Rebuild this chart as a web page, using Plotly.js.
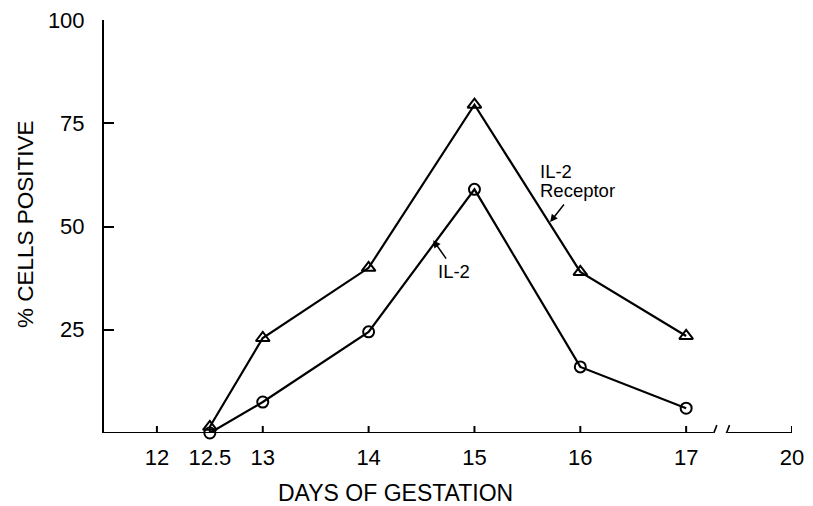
<!DOCTYPE html>
<html>
<head>
<meta charset="utf-8">
<script src="https://cdn.plot.ly/plotly-3.0.1.min.js"></script>
<style>html,body{margin:0;padding:0;background:#fff;}#chart{width:813px;height:506px;}</style>
</head>
<body>
<div id="chart"></div>
<script>
// Data
var days = [12.5, 13, 14, 15, 16, 17];
var il2Receptor = [1.5, 23, 40, 79.5, 39, 23.5];
var il2 = [0, 7.5, 24.5, 59, 16, 6];
var xTickVals = [12, 12.5, 13, 14, 15, 16, 17, 18];
var xTickText = ["12", "12.5", "13", "14", "15", "16", "17", "20"];
var yTickVals = [25, 50, 75, 100];
var yTickText = ["25", "50", "75", "100"];

var FONT = "Liberation Sans, Arial, Helvetica, sans-serif";
var traces = [
  {x: days, y: il2Receptor, mode: "lines+markers", type: "scatter", cliponaxis: false,
   line: {color: "#000", width: 2.2},
   marker: {symbol: "triangle-up-open", size: 12, color: "#000", line: {width: 2, color: "#000"}},
   name: "IL-2 Receptor"},
  {x: days, y: il2, mode: "lines+markers", type: "scatter", cliponaxis: false,
   line: {color: "#000", width: 2.2},
   marker: {symbol: "circle-open", size: 11, color: "#000", line: {width: 2, color: "#000"}},
   name: "IL-2"}
];

var blk = {color: "#000", width: 2};
var shapes = [
  // x axis line with a break before the last tick
  {type: "line", xref: "x", yref: "y", x0: 11.5, x1: 17.256, y0: 0, y1: 0, line: blk},
  {type: "line", xref: "x", yref: "y", x0: 17.39, x1: 18, y0: 0, y1: 0, line: blk},
  {type: "line", xref: "x", yref: "y", x0: 17.24, x1: 17.29, y0: -1.4, y1: 1.9, line: {color: "#000", width: 1.6}},
  {type: "line", xref: "x", yref: "y", x0: 17.36, x1: 17.41, y0: -1.4, y1: 1.9, line: {color: "#000", width: 1.6}}
];
// x tick marks (pointing up into the plot), one per tick value
xTickVals.forEach(function (v) {
  shapes.push({type: "line", xref: "x", yref: "y", x0: v, x1: v, y0: 0, y1: 1.7,
               layer: "above", line: blk});
});

var layout = {
  width: 813, height: 506,
  margin: {l: 104, r: 21, t: 20, b: 73},
  paper_bgcolor: "#fff", plot_bgcolor: "#fff",
  showlegend: false,
  font: {family: FONT, color: "#000"},
  xaxis: {range: [11.5, 18], showgrid: false, zeroline: false, showline: false,
          tickmode: "array", tickvals: xTickVals, ticktext: xTickText,
          ticks: "", ticklabelstandoff: 9,
          tickfont: {size: 22, family: FONT, color: "#000"}},
  yaxis: {range: [0, 100], showgrid: false, zeroline: false, showline: true,
          linecolor: "#000", linewidth: 2,
          tickmode: "array", tickvals: yTickVals, ticktext: yTickText,
          ticks: "inside", ticklen: 10, tickwidth: 2, tickcolor: "#000",
          ticklabelstandoff: 13,
          tickfont: {size: 22, family: FONT, color: "#000"}},
  shapes: shapes,
  annotations: [
    {xref: "paper", yref: "paper", x: 0.4244, y: -0.146, yanchor: "middle", xanchor: "center",
     text: "DAYS OF GESTATION", showarrow: false, font: {size: 23, family: FONT, color: "#000"}},
    {xref: "paper", yref: "paper", x: -0.114, y: 0.505, xanchor: "center", yanchor: "middle",
     text: "% CELLS POSITIVE", textangle: -90, showarrow: false, font: {size: 22.5, family: FONT, color: "#000"}},
    {xref: "x", yref: "y", x: 15.6, y: 63.2, xanchor: "left", yanchor: "middle",
     text: "IL-2", showarrow: false, font: {size: 18.5, family: FONT, color: "#000"}},
    {xref: "x", yref: "y", x: 15.6, y: 58.6, xanchor: "left", yanchor: "middle",
     text: "Receptor", showarrow: false, font: {size: 18.5, family: FONT, color: "#000"}},
    {xref: "x", yref: "y", x: 14.64, y: 39, xanchor: "left", yanchor: "middle",
     text: "IL-2", showarrow: false, font: {size: 18.5, family: FONT, color: "#000"}},
    {xref: "x", yref: "y", x: 15.715, y: 51.1, text: "", showarrow: true, ax: 15, ay: -19,
     arrowhead: 2, arrowsize: 1, arrowwidth: 1.5, arrowcolor: "#000", standoff: 0},
    {xref: "x", yref: "y", x: 14.61, y: 46.7, text: "", showarrow: true, ax: 14, ay: 20,
     arrowhead: 2, arrowsize: 1, arrowwidth: 1.5, arrowcolor: "#000", standoff: 0}
  ]
};
Plotly.newPlot("chart", traces, layout, {displayModeBar: false, staticPlot: true});
</script>
</body>
</html>
